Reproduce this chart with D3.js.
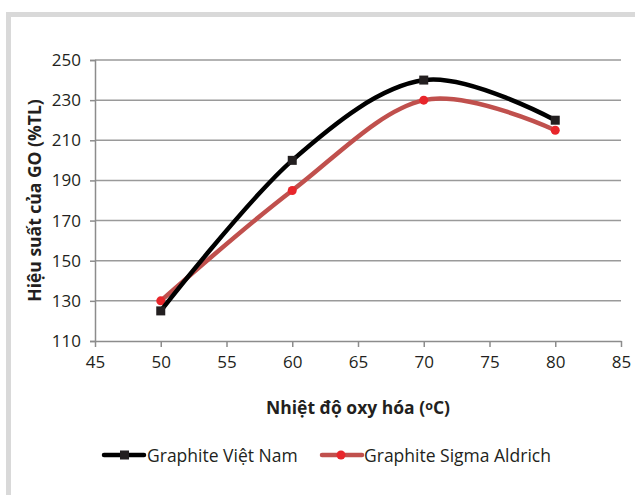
<!DOCTYPE html>
<html>
<head>
<meta charset="utf-8">
<script src="https://cdn.jsdelivr.net/npm/d3@7"></script>
<style>
  html, body { margin: 0; padding: 0; background: #fff; }
  svg { display: block; }
  text { font-family: "Open Sans", "Noto Sans", sans-serif; fill: #231f20; }
</style>
</head>
<body>
<svg id="chart" width="635" height="495"></svg>
<script>
// Oxidation temperature (°C)
const temperatures = [50, 60, 70, 80];
// GO yield (%TL) per graphite source
const vietnamYield = [125, 200, 240, 220];
const sigmaYield = [130, 185, 230, 215];
const seriesNames = ["Graphite Việt Nam", "Graphite Sigma Aldrich"];
const xTicks = [45, 50, 55, 60, 65, 70, 75, 80, 85];
const yTicks = [110, 130, 150, 170, 190, 210, 230, 250];

const svg = d3.select("#chart");

// outer frame (top and left edges visible)
svg.append("rect")
  .attr("x", 8.5).attr("y", 14.5)
  .attr("width", 640).attr("height", 500)
  .attr("fill", "#fff")
  .attr("stroke", "#d9d9d9").attr("stroke-width", 5);

const plotLeft = 95, plotRight = 621, plotTop = 60, plotBottom = 341;
const x = d3.scaleLinear().domain([45, 85]).range([plotLeft, plotRight]);
const y = d3.scaleLinear().domain([110, 250]).range([plotBottom, plotTop]);

// horizontal gridlines
svg.append("g").selectAll("line")
  .data(yTicks.filter(d => d !== 110))
  .join("line")
  .attr("x1", plotLeft).attr("x2", plotRight)
  .attr("y1", d => y(d)).attr("y2", d => y(d))
  .attr("stroke", "#9a9a9a").attr("stroke-width", 1.5);

// y axis
const yAxis = svg.append("g")
  .attr("transform", `translate(${plotLeft},0)`)
  .call(d3.axisLeft(y).tickValues(yTicks).tickSize(5).tickPadding(9));
yAxis.select(".domain").attr("stroke", "#8c8c8c").attr("stroke-width", 1.5);
yAxis.selectAll(".tick line").attr("stroke", "#8c8c8c").attr("stroke-width", 1.5);
yAxis.selectAll("text").attr("font-size", 17).attr("fill", "#231f20")
  .attr("font-family", "'Open Sans', sans-serif");

// x axis
const xAxis = svg.append("g")
  .attr("transform", `translate(0,${plotBottom})`)
  .call(d3.axisBottom(x).tickValues(xTicks).tickSize(6).tickSizeOuter(0).tickPadding(9));
xAxis.select(".domain").attr("stroke", "#8c8c8c").attr("stroke-width", 1.5);
xAxis.selectAll(".tick line").attr("stroke", "#8c8c8c").attr("stroke-width", 1.5);
xAxis.selectAll("text").attr("font-size", 17).attr("fill", "#231f20")
  .attr("font-family", "'Open Sans', sans-serif");

// axis titles (small raised "o" for the degree sign)
const xt = svg.append("text")
  .attr("x", (plotLeft + plotRight) / 2).attr("y", 414)
  .attr("text-anchor", "middle")
  .attr("font-size", 17.5).attr("font-weight", "bold");
xt.append("tspan").text("Nhiệt độ oxy hóa (");
xt.append("tspan").attr("font-size", 12.5).attr("dy", -4).text("o");
xt.append("tspan").attr("dy", 4).text("C)");

svg.append("text")
  .attr("transform", `translate(41,${(plotTop + plotBottom) / 2}) rotate(-90)`)
  .attr("text-anchor", "middle")
  .attr("font-size", 17.5).attr("font-weight", "bold")
  .text("Hiệu suất của GO (%TL)");

// smoothed series lines
const line = d3.line()
  .x(d => x(d[0])).y(d => y(d[1]))
  .curve(d3.curveCardinal.tension(0));

const vnData = temperatures.map((t, i) => [t, vietnamYield[i]]);
const sgData = temperatures.map((t, i) => [t, sigmaYield[i]]);

svg.append("path").datum(sgData)
  .attr("d", line).attr("fill", "none")
  .attr("stroke", "#c0504d").attr("stroke-width", 4.5);
svg.append("g").selectAll("circle").data(sgData).join("circle")
  .attr("cx", d => x(d[0])).attr("cy", d => y(d[1])).attr("r", 4.5)
  .attr("fill", "#e8262b");

svg.append("path").datum(vnData)
  .attr("d", line).attr("fill", "none")
  .attr("stroke", "#000").attr("stroke-width", 4.5);
svg.append("g").selectAll("rect").data(vnData).join("rect")
  .attr("x", d => x(d[0]) - 4.5).attr("y", d => y(d[1]) - 4.5)
  .attr("width", 9).attr("height", 9)
  .attr("fill", "#231f20");

// legend
const legendY = 455;
const lg1 = svg.append("g");
lg1.append("line").attr("x1", 104).attr("x2", 144).attr("y1", legendY).attr("y2", legendY)
  .attr("stroke", "#000").attr("stroke-width", 4.5).attr("stroke-linecap", "round");
lg1.append("rect").attr("x", 120).attr("y", legendY - 4.5).attr("width", 9).attr("height", 9)
  .attr("fill", "#231f20");
lg1.append("text").attr("x", 147).attr("y", legendY + 6.5)
  .attr("font-size", 17.5).text(seriesNames[0]);

const lg2 = svg.append("g");
lg2.append("line").attr("x1", 322).attr("x2", 362).attr("y1", legendY).attr("y2", legendY)
  .attr("stroke", "#c0504d").attr("stroke-width", 4.5).attr("stroke-linecap", "round");
lg2.append("circle").attr("cx", 341).attr("cy", legendY).attr("r", 4.5)
  .attr("fill", "#e8262b");
lg2.append("text").attr("x", 364).attr("y", legendY + 6.5)
  .attr("font-size", 17.5).text(seriesNames[1]);
</script>
</body>
</html>
